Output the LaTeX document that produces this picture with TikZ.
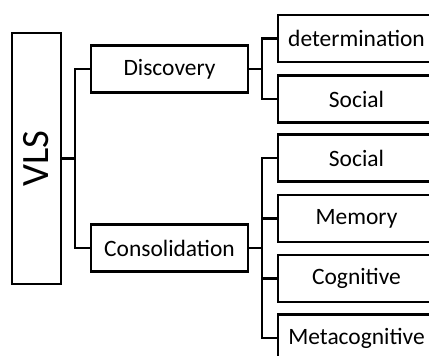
\documentclass[tikz,border=0pt]{standalone}
\usepackage{fontspec}
\setmainfont{Carlito}
\usetikzlibrary{positioning,calc}

\begin{document}
\begin{tikzpicture}[x=0.75pt, y=-0.75pt, line width=1.6pt,
    box/.style={draw, inner sep=0pt, minimum width=117.75pt, minimum height=35.25pt, font=\fontsize{17.6}{17.6}\selectfont}]
    \useasboundingbox (0,0) rectangle (429,356);
    \clip (0,0) rectangle (429,356);

    % Root
    \node[draw, rotate=90, inner sep=0pt, minimum width=188.25pt, minimum height=36.75pt,
          font=\fontsize{29}{29}\selectfont] (vls) at (36.5,158.5) {VLS};

    % Second level
    \node[box] (disc) at (169.5,69) {Discovery};
    \node[box] (cons) at (169.5,248) {Consolidation};

    % Third level
    \node[box] (det) at (356.5,38.5) {determination};
    \node[box] (soc1) at (356.5,99) {Social};
    \node[box] (soc2) at (356.5,158) {Social};
    \node[box] (mem) at (356.5,218.5) {Memory};
    \node[box] (cog) at (356.5,278.5) {Cognitive};
    \node[box] (meta) at (356.5,338) {Metacognitive};

    % Connectors
    \draw (disc.west) -- ++(-15,0) |- (vls.south);
    \draw (cons.west) -- ++(-15,0) |- (vls.south);
    \foreach \n in {det,soc1}
        \draw (\n.west) -- ++(-15,0) |- (disc.east);
    \foreach \n in {soc2,mem,cog,meta}
        \draw (\n.west) -- ++(-15,0) |- (cons.east);
\end{tikzpicture}
\end{document}
